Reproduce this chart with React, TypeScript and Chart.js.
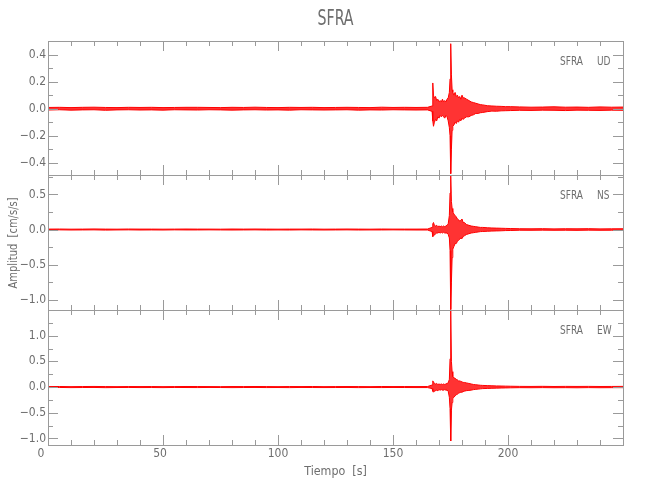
import React, { useEffect, useRef } from "react";
import { Chart, registerables } from "chart.js";
Chart.register(...registerables);

// ---------- text ----------
const TITLE = "SFRA";
const X_TITLE = "Tiempo  [s]";
const Y_TITLE = "Amplitud  [cm/s/s]";
const STATION = "SFRA";
const COMPONENTS = ["UD", "NS", "EW"];

// ---------- axes ----------
const X_MIN = 0;
const X_MAX = 250;
const X_TICK_LABELS = [0, 50, 100, 150, 200];
const X_MINOR_STEP = 10;

const UD_RANGE = [-0.49, 0.5];
const NS_RANGE = [-1.147, 0.777];
const EW_RANGE = [-1.128, 1.5];

const UD_LABELS = [0.4, 0.2, 0.0, -0.2, -0.4];
const NS_LABELS = [0.5, 0.0, -0.5, -1.0];
const EW_LABELS = [1.0, 0.5, 0.0, -0.5, -1.0];

const UD_MINOR = [-0.4, -0.3, -0.2, -0.1, 0.0, 0.1, 0.2, 0.3, 0.4];
const NS_MINOR = [-1.0, -0.75, -0.5, -0.25, 0.0, 0.25, 0.5, 0.75];
const EW_MINOR = [-1.0, -0.75, -0.5, -0.25, 0.0, 0.25, 0.5, 0.75, 1.0, 1.25];

// ---------- time knots of the envelope (s) ----------
const T_PRE = [0, 5, 10, 15, 20, 25, 30, 35, 40, 45, 50, 55, 60, 65, 70, 75, 80, 85, 90, 95,
  100, 105, 110, 115, 120, 125, 130, 135, 140, 145, 150, 155, 160, 165];
const T_EVENT = [167, 167.3, 167.6, 168, 168.5, 169, 169.5, 170, 170.5, 171,
  171.5, 172, 172.5, 173, 173.5, 174, 174.5, 174.8, 175.1, 175.4,
  175.7, 176, 176.5, 177, 177.5, 178, 178.5, 179, 179.5, 180,
  180.5, 181];
const T_CODA = [182, 183, 184, 185, 186, 187, 188, 189, 191, 193, 195, 197, 199, 201];
const T_POST = [205, 210, 215, 220, 225, 230, 235, 240, 245, 250];

// ---------- UD envelope (cm/s/s) ----------
const UD_UP = [
  0.009, 0.010, 0.008, 0.010, 0.011, 0.009, 0.008, 0.010, 0.009, 0.010,
  0.008, 0.009, 0.010, 0.010, 0.009, 0.008, 0.010, 0.009, 0.011, 0.009,
  0.008, 0.010, 0.009, 0.010, 0.008, 0.009, 0.010, 0.009, 0.008, 0.011,
  0.009, 0.010, 0.009, 0.010,
  0.02, 0.19, 0.10, 0.08, 0.09, 0.06, 0.07, 0.05, 0.06, 0.05,
  0.07, 0.05, 0.06, 0.05, 0.07, 0.08, 0.12, 0.22, 0.48, 0.25,
  0.14, 0.12, 0.10, 0.12, 0.09, 0.10, 0.08, 0.09, 0.07, 0.10,
  0.08, 0.08,
  0.07, 0.06, 0.05, 0.045, 0.04, 0.035, 0.03, 0.028, 0.022, 0.02, 0.018, 0.017, 0.015, 0.015,
  0.013, 0.011, 0.012, 0.014, 0.011, 0.012, 0.010, 0.013, 0.011, 0.012,
];
const UD_LO = [
  -0.010, -0.008, -0.011, -0.009, -0.008, -0.012, -0.009, -0.008, -0.010, -0.009,
  -0.011, -0.008, -0.009, -0.010, -0.008, -0.009, -0.011, -0.009, -0.008, -0.010,
  -0.009, -0.011, -0.008, -0.009, -0.010, -0.009, -0.008, -0.011, -0.009, -0.010,
  -0.008, -0.009, -0.010, -0.009,
  -0.02, -0.09, -0.13, -0.10, -0.08, -0.09, -0.06, -0.07, -0.05, -0.06,
  -0.05, -0.06, -0.07, -0.05, -0.06, -0.09, -0.14, -0.20, -0.48, -0.30,
  -0.16, -0.13, -0.12, -0.10, -0.11, -0.09, -0.10, -0.08, -0.09, -0.07,
  -0.08, -0.07,
  -0.06, -0.06, -0.05, -0.045, -0.035, -0.035, -0.03, -0.028, -0.022, -0.018, -0.019, -0.016, -0.015, -0.014,
  -0.012, -0.013, -0.011, -0.012, -0.014, -0.011, -0.012, -0.013, -0.011, -0.012,
];

// ---------- NS envelope ----------
const NS_UP = [
  0.006, 0.007, 0.005, 0.006, 0.008, 0.006, 0.005, 0.007, 0.006, 0.006,
  0.005, 0.006, 0.007, 0.006, 0.006, 0.005, 0.007, 0.006, 0.007, 0.006,
  0.005, 0.006, 0.006, 0.007, 0.005, 0.006, 0.007, 0.006, 0.005, 0.007,
  0.006, 0.006, 0.006, 0.007,
  0.03, 0.08, 0.10, 0.06, 0.05, 0.06, 0.04, 0.05, 0.04, 0.05,
  0.04, 0.05, 0.04, 0.05, 0.06, 0.08, 0.20, 0.52, 0.77, 0.40,
  0.30, 0.25, 0.22, 0.20, 0.18, 0.15, 0.14, 0.12, 0.13, 0.15,
  0.10, 0.10,
  0.07, 0.06, 0.05, 0.045, 0.04, 0.035, 0.03, 0.03, 0.025, 0.022, 0.02, 0.018, 0.016, 0.014,
  0.011, 0.010, 0.012, 0.009, 0.011, 0.010, 0.012, 0.009, 0.010, 0.011,
];
const NS_LO = [
  -0.006, -0.005, -0.007, -0.006, -0.005, -0.008, -0.006, -0.005, -0.007, -0.006,
  -0.007, -0.005, -0.006, -0.006, -0.005, -0.006, -0.007, -0.006, -0.005, -0.007,
  -0.006, -0.007, -0.005, -0.006, -0.007, -0.006, -0.005, -0.007, -0.006, -0.006,
  -0.005, -0.006, -0.007, -0.007,
  -0.03, -0.10, -0.09, -0.08, -0.06, -0.05, -0.05, -0.04, -0.05, -0.04,
  -0.05, -0.04, -0.05, -0.05, -0.05, -0.07, -0.12, -0.30, -1.14, -0.75,
  -0.40, -0.28, -0.24, -0.20, -0.20, -0.17, -0.15, -0.14, -0.12, -0.13,
  -0.10, -0.09,
  -0.07, -0.06, -0.05, -0.045, -0.04, -0.035, -0.03, -0.028, -0.025, -0.022, -0.02, -0.018, -0.015, -0.014,
  -0.010, -0.011, -0.009, -0.011, -0.010, -0.012, -0.009, -0.011, -0.010, -0.010,
];

// ---------- EW envelope ----------
const EW_UP = [
  0.009, 0.011, 0.008, 0.010, 0.012, 0.009, 0.008, 0.010, 0.009, 0.010,
  0.008, 0.009, 0.011, 0.010, 0.009, 0.008, 0.010, 0.009, 0.011, 0.009,
  0.008, 0.010, 0.009, 0.011, 0.008, 0.009, 0.010, 0.009, 0.008, 0.011,
  0.009, 0.010, 0.009, 0.010,
  0.04, 0.12, 0.10, 0.07, 0.06, 0.07, 0.05, 0.06, 0.05, 0.06,
  0.05, 0.06, 0.05, 0.06, 0.07, 0.08, 0.15, 0.55, 1.49, 0.50,
  0.30, 0.20, 0.18, 0.17, 0.15, 0.14, 0.12, 0.12, 0.11, 0.10,
  0.09, 0.09,
  0.08, 0.07, 0.06, 0.05, 0.045, 0.04, 0.035, 0.032, 0.028, 0.025, 0.022, 0.02, 0.018, 0.016,
  0.013, 0.012, 0.014, 0.011, 0.013, 0.012, 0.013, 0.011, 0.012, 0.013,
];
const EW_LO = [
  -0.010, -0.008, -0.011, -0.009, -0.008, -0.012, -0.009, -0.008, -0.010, -0.009,
  -0.011, -0.008, -0.009, -0.010, -0.008, -0.009, -0.011, -0.009, -0.008, -0.010,
  -0.009, -0.011, -0.008, -0.009, -0.010, -0.009, -0.008, -0.011, -0.009, -0.010,
  -0.008, -0.009, -0.010, -0.010,
  -0.03, -0.08, -0.10, -0.08, -0.07, -0.06, -0.07, -0.05, -0.06, -0.05,
  -0.06, -0.06, -0.05, -0.06, -0.06, -0.08, -0.20, -0.42, -1.05, -0.45,
  -0.30, -0.22, -0.20, -0.17, -0.15, -0.14, -0.12, -0.11, -0.10, -0.10,
  -0.09, -0.08,
  -0.07, -0.065, -0.06, -0.05, -0.045, -0.04, -0.035, -0.03, -0.027, -0.024, -0.021, -0.019, -0.017, -0.015,
  -0.012, -0.013, -0.011, -0.013, -0.012, -0.014, -0.011, -0.013, -0.012, -0.012,
];

const T_ALL = [...T_PRE, ...T_EVENT, ...T_CODA, ...T_POST];

// ---------- styling ----------
const FONT = '"Liberation Sans Narrow", "DejaVu Sans Condensed", "Liberation Sans", sans-serif';
const AXIS_COLOR = "#9a9a9a";
const TEXT_COLOR = "#6e6e6e";
const TRACE = "#ff0000";
const PLOT_LEFT = 48;
const PLOT_RIGHT = 623;
const PANEL_EDGES = [41, 175, 310, 445];
const W = 650;
const H = 500;

function fmt(v: number) {
  const s = Math.abs(v).toFixed(1);
  return v < 0 ? "\u2212" + s : s;
}

function drawText(ctx: CanvasRenderingContext2D, s: string, x: number, y: number, size: number,
  align: CanvasTextAlign, sx = 1, rot = 0) {
  ctx.save();
  ctx.translate(x, y);
  if (rot) ctx.rotate(rot);
  ctx.scale(sx, 1);
  ctx.font = `${size}px ${FONT}`;
  ctx.textAlign = align;
  ctx.textBaseline = "middle";
  ctx.fillStyle = TEXT_COLOR;
  ctx.fillText(s, 0, 0);
  ctx.restore();
}

const framePlugin = {
  id: "seisFrame",
  afterDraw(chart: any, _args: any, opts: any) {
    const ctx: CanvasRenderingContext2D = chart.ctx;
    const { left, right, top, bottom } = chart.chartArea;
    const xs = chart.scales.x;
    const ys = chart.scales.y;
    ctx.save();
    ctx.strokeStyle = AXIS_COLOR;
    ctx.lineWidth = 1;
    ctx.strokeRect(Math.round(left) + 0.5, Math.round(top) + 0.5,
      Math.round(right - left), Math.round(bottom - top));
    ctx.beginPath();
    for (let t = X_MIN + X_MINOR_STEP; t < X_MAX; t += X_MINOR_STEP) {
      const px = Math.round(xs.getPixelForValue(t)) + 0.5;
      const len = t % 50 === 0 ? 10 : 5;
      ctx.moveTo(px, bottom); ctx.lineTo(px, bottom - len);
      ctx.moveTo(px, top); ctx.lineTo(px, top + len);
    }
    const labels: number[] = opts.labels;
    (opts.minor as number[]).forEach((v) => {
      const py = Math.round(ys.getPixelForValue(v)) + 0.5;
      const major = labels.some((l) => Math.abs(l - v) < 1e-6);
      const len = major ? 10 : 5;
      ctx.moveTo(left, py); ctx.lineTo(left + len, py);
      ctx.moveTo(right, py); ctx.lineTo(right - len, py);
    });
    ctx.stroke();
    ctx.restore();

    labels.forEach((v) => {
      drawText(ctx, fmt(v), left - 2, ys.getPixelForValue(v), 12, "right");
    });
    drawText(ctx, STATION, right - 40, top + 21, 12.5, "right", 0.8);
    drawText(ctx, opts.comp, right - 26, top + 21, 12.5, "left", 0.8);

    if (opts.first) {
      drawText(ctx, TITLE, (left + right) / 2, 20, 21, "center", 0.75);
    }
    if (opts.middle) {
      drawText(ctx, Y_TITLE, 14, (PANEL_EDGES[0] + PANEL_EDGES[3]) / 2, 13, "center", 0.85, -Math.PI / 2);
    }
    if (opts.last) {
      X_TICK_LABELS.forEach((t) => {
        drawText(ctx, String(t), xs.getPixelForValue(t) - (t === 0 ? 7 : t === 50 ? 3 : 0), bottom + 9, 12, "center");
      });
      drawText(ctx, X_TITLE, (left + right) / 2, bottom + 27, 13, "center", 0.95);
    }
  },
};

type Panel = {
  comp: string; up: number[]; lo: number[]; range: number[];
  labels: number[]; minor: number[];
};

const PANELS: Panel[] = [
  { comp: COMPONENTS[0], up: UD_UP, lo: UD_LO, range: UD_RANGE, labels: UD_LABELS, minor: UD_MINOR },
  { comp: COMPONENTS[1], up: NS_UP, lo: NS_LO, range: NS_RANGE, labels: NS_LABELS, minor: NS_MINOR },
  { comp: COMPONENTS[2], up: EW_UP, lo: EW_LO, range: EW_RANGE, labels: EW_LABELS, minor: EW_MINOR },
];

function PanelChart({ idx }: { idx: number }) {
  const ref = useRef<HTMLCanvasElement>(null);
  useEffect(() => {
    const p = PANELS[idx];
    const top = PANEL_EDGES[idx];
    const bottom = PANEL_EDGES[idx + 1];
    const chart = new Chart(ref.current as HTMLCanvasElement, {
      type: "line",
      data: {
        datasets: [
          {
            data: T_ALL.map((t, i) => ({ x: t, y: p.up[i] })),
            borderColor: TRACE,
            backgroundColor: "rgba(255,0,0,0.8)",
            borderWidth: 1,
            pointRadius: 0,
            tension: 0,
            fill: "+1",
            clip: 6,
          },
          {
            data: T_ALL.map((t, i) => ({ x: t, y: p.lo[i] })),
            borderColor: TRACE,
            borderWidth: 1,
            pointRadius: 0,
            tension: 0,
            fill: false,
            clip: 6,
          },
        ],
      },
      options: {
        responsive: false,
        animation: false,
        devicePixelRatio: 1,
        layout: { padding: { left: PLOT_LEFT, right: W - PLOT_RIGHT, top, bottom: H - bottom } },
        scales: {
          x: { type: "linear", min: X_MIN, max: X_MAX, display: false },
          y: { type: "linear", min: p.range[0], max: p.range[1], display: false },
        },
        plugins: {
          legend: { display: false },
          tooltip: { enabled: false },
          seisFrame: {
            comp: p.comp, labels: p.labels, minor: p.minor,
            first: idx === 0, middle: idx === 1, last: idx === 2,
          },
        } as any,
      },
      plugins: [framePlugin],
    } as any);
    return () => chart.destroy();
  }, [idx]);
  return (
    <canvas ref={ref} width={W} height={H}
      style={{ position: "absolute", left: 0, top: 0, width: W, height: H }} />
  );
}

export default function App() {
  return (
    <div style={{ position: "absolute", left: 0, top: 0, width: W, height: H, background: "#ffffff" }}>
      <PanelChart idx={0} />
      <PanelChart idx={1} />
      <PanelChart idx={2} />
    </div>
  );
}
